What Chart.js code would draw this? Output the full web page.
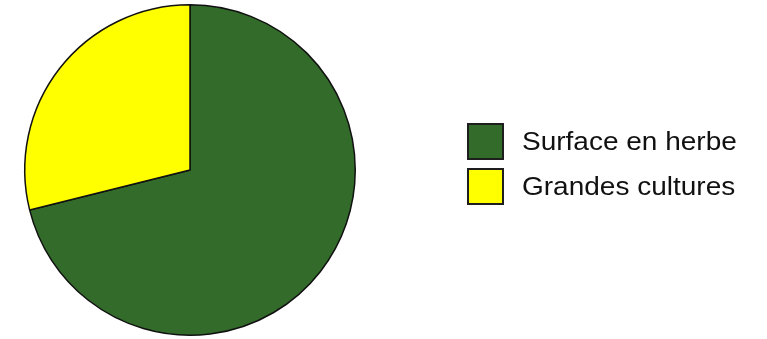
<!DOCTYPE html>
<html>
<head>
<meta charset="utf-8">
<script src="https://cdn.jsdelivr.net/npm/chart.js@4"></script>
<style>
    html, body { margin: 0; padding: 0; background: #fff; }
    #wrap { position: relative; width: 767px; height: 339px; }
    #landChart { position: absolute; left: 0; top: 0; }
    #landLegend { position: absolute; left: 467px; top: 123px; margin: 0; padding: 0; list-style: none; }
    #landLegend li { display: flex; align-items: center; height: 36px; margin-bottom: 9.5px; }
    #landLegend .box { width: 33px; height: 33px; border: 2px solid #1e1e1e; margin-right: 18px; }
    #landLegend .txt { font-family: 'Liberation Sans', Arial, sans-serif; font-size: 25px; color: #111;
        display: inline-block; transform: scaleX(1.12); transform-origin: left center; white-space: nowrap; }
</style>
</head>
<body>
<div id="wrap">
    <canvas id="landChart" width="767" height="339"></canvas>
    <ul id="landLegend"></ul>
</div>
<script>
const landLabels = ['Surface en herbe', 'Grandes cultures'];
const landShares = [71.1, 28.9];
const landColors = ['#326b2a', '#ffff00'];

function fillLegend() {
    const legendList = document.getElementById('landLegend');
    legendList.innerHTML = landLabels.map((label, i) =>
        `<li><span class="box" style="background:${landColors[i]}"></span><span class="txt">${label}</span></li>`
    ).join('');
}

function createLandChart() {
    const ctx = document.getElementById('landChart').getContext('2d');

    new Chart(ctx, {
        type: 'pie',
        data: {
            labels: landLabels,
            datasets: [{
                data: landShares,
                backgroundColor: landColors,
                borderColor: '#111111',
                borderWidth: 1.5
            }]
        },
        options: {
            responsive: false,
            animation: false,
            layout: {
                padding: { left: 24, top: 4, right: 411, bottom: 3 }
            },
            plugins: {
                legend: { display: false },
                tooltip: { enabled: false }
            }
        }
    });
}

fillLegend();
createLandChart();
</script>
</body>
</html>
